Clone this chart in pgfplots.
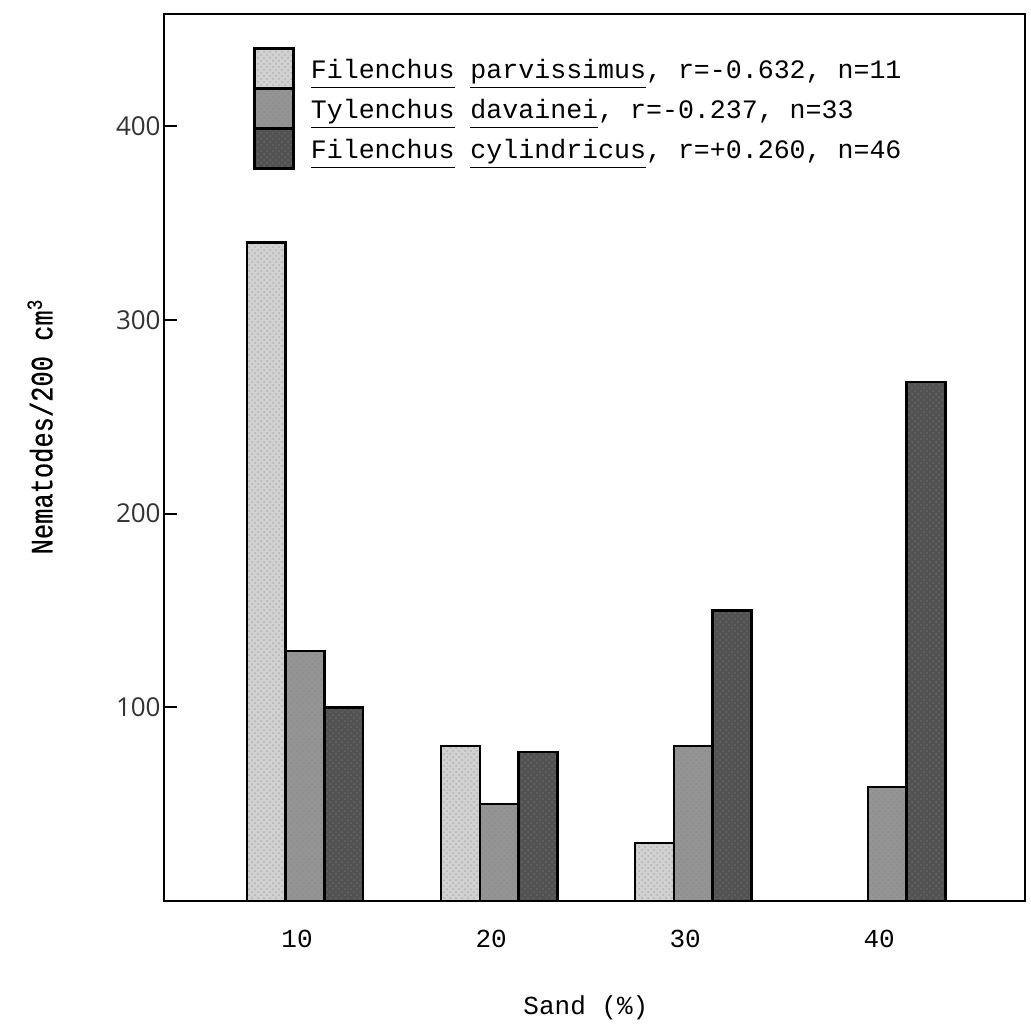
\documentclass[border=0pt]{standalone}
\usepackage{fontspec}
\usepackage{pgfplots}
\pgfplotsset{compat=1.18}
\usetikzlibrary{patterns}

\setmainfont{Liberation Mono}
\newfontfamily\monof{Liberation Mono}
\newfontfamily\ylabf[FakeStretch=0.82,FakeBold=0.6]{Liberation Mono}
\newfontfamily\tickf{Open Sans}

% underline at a fixed depth below the baseline
\newcommand{\ul}[1]{\underline{\vphantom{y}#1}}

\definecolor{barlight}{gray}{0.82}
\definecolor{barmid}{gray}{0.58}
\definecolor{bardark}{gray}{0.32}

% halftone-like screen laid over each fill
\tikzset{
  screen/.style={postaction={pattern=crosshatch dots, pattern color=#1}}
}

% nematode counts per sand class
\pgfplotstableread{
sand count
10 340
20 80
30 30
}\parvissimus
\pgfplotstableread{
sand count
10 129
20 50
30 80
40 59
}\davainei
\pgfplotstableread{
sand count
10 100
20 77
30 150
40 268
}\cylindricus

\begin{document}
\begin{tikzpicture}
\useasboundingbox (0,0) rectangle (515.5pt,512pt);
\begin{axis}[
  at={(82pt,61.5pt)}, anchor=south west,
  scale only axis,
  width=430.5pt, height=443.5pt,
  xmin=2.73, xmax=47.1,
  ymin=0, ymax=458,
  axis line style={line width=1pt},
  xtick={10,20,30,40},
  xtick style={draw=none},
  ytick={100,200,300,400},
  ytick pos=left,
  tick align=inside,
  major tick length=6.5pt,
  tick style={line width=1pt, black},
  /pgf/number format/assume math mode=true,
  yticklabel style={font=\tickf\fontsize{13}{13}\selectfont, inner xsep=1.5pt, text=black!80},
  xticklabel style={font=\monof\fontsize{13}{13}\selectfont, yshift=-4.5pt, xshift=-4pt},
  xlabel={Sand (\%)},
  xlabel style={font=\monof\fontsize{13}{13}\selectfont, at={(axis description cs:0.49,-0.12)}, anchor=center},
  ylabel={Nematodes/200 cm\textsuperscript{3}},
  ylabel style={font=\ylabf\fontsize{15.5}{15.5}\selectfont, at={(axis description cs:-0.144,0.535)}, anchor=center, rotate=0},
  ybar, bar width=2,
  every axis plot/.append style={draw=black, line width=1.2pt},
  legend image code/.code={%
    \path (0pt,0pt) (19.5pt,0pt);
    \draw[#1, line width=1.2pt, overlay] (0pt,-8.5pt) rectangle (19.5pt,11.5pt);},
  legend style={draw=none, fill=none, at={(axis cs:7.32,438.8)}, anchor=north west,
    inner sep=0pt, row sep=0pt, column sep=8pt,
    font=\monof\fontsize{13.3}{13.3}\selectfont,
    nodes={inner sep=0pt, text height=13.5pt, text depth=6.5pt}},
  legend cell align=left,
]
\addplot[fill=barlight, bar shift=-2, screen=black!30] table[x=sand, y=count] {\parvissimus};
\addplot[fill=barmid, bar shift=0, screen=black!45] table[x=sand, y=count] {\davainei};
\addplot[fill=bardark, bar shift=2, screen=black!60] table[x=sand, y=count] {\cylindricus};
\legend{{\ul{Filenchus} \ul{parvissimus}, r=-0.632, n=11},
        {\ul{Tylenchus} \ul{davainei}, r=-0.237, n=33},
        {\ul{Filenchus} \ul{cylindricus}, r=+0.260, n=46}}
\end{axis}
\end{tikzpicture}
\end{document}
